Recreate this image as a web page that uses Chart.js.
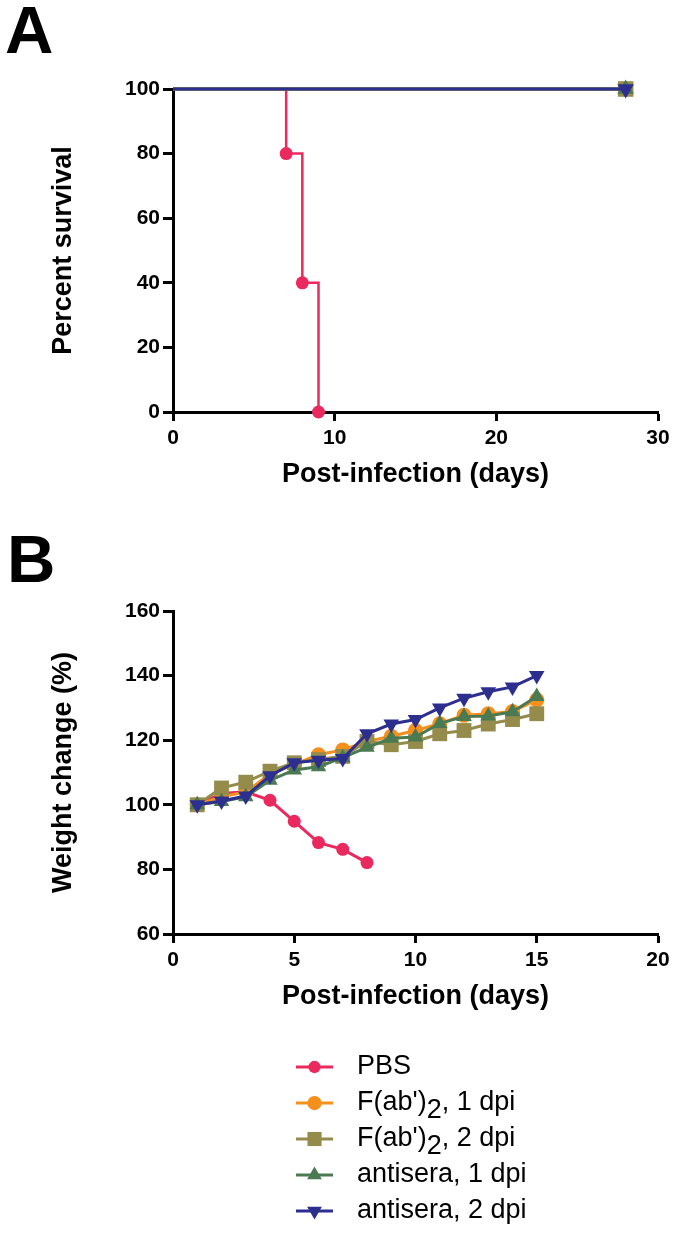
<!DOCTYPE html>
<html lang="en">
<head>
    <meta charset="UTF-8">
    <title>Survival and weight change</title>
    <script src="https://cdn.jsdelivr.net/npm/chart.js"></script>
    <style>
        body { margin: 0; background: #fff; width: 675px; height: 1233px; overflow: hidden; position: relative; }
        canvas { position: absolute; left: 0; }
        #survivalChart { top: 0; }
        #weightChart { top: 520px; }
    </style>
</head>
<body>
    <canvas id="survivalChart" width="675" height="520"></canvas>
    <canvas id="weightChart" width="675" height="713"></canvas>

    <script>
        // ---- data ----
        const seriesNames = ['PBS', "F(ab')\u2082, 1 dpi", "F(ab')\u2082, 2 dpi", 'antisera, 1 dpi', 'antisera, 2 dpi'];
        const seriesColors = ['#EA2A5F', '#F5901E', '#958C4C', '#4B7A52', '#2D2F8F'];

        // panel A: Kaplan-Meier survival
        const survivalDaysPBS = [0, 7, 8, 9];
        const survivalPBS = [100, 80, 40, 0];
        const survivalDaysTreated = [0, 28];
        const survivalF1 = [100, 100];
        const survivalF2 = [100, 100];
        const survivalA1 = [100, 100];
        const survivalA2 = [100, 100];

        // panel B: weight change (%)
        const weightDays = [1, 2, 3, 4, 5, 6, 7, 8, 9, 10, 11, 12, 13, 14, 15];
        const weightPBS = [100, 103.5, 104, 101.4, 94.9, 88.3, 86.2, 82.1];
        const weightF1 = [100, 102.5, 104, 109.5, 112.5, 115.5, 117, 119.6, 121.2, 123, 125.1, 127.7, 128.2, 128.9, 132.5];
        const weightF2 = [100, 105.2, 107, 110.4, 113, 114, 115, 119.6, 118.6, 119.6, 122, 123, 125, 126.4, 128.2];
        const weightA1 = [100, 101, 102.5, 107.6, 110.8, 111.8, 114.6, 117.8, 120.6, 121, 125.2, 127.3, 127.5, 128.8, 133.5];
        const weightA2 = [100, 101.2, 102.7, 109, 113, 113.8, 114.3, 122, 125, 126.4, 130, 133, 135, 136.5, 140];

        const FONT = '"Liberation Sans", Arial, sans-serif';
        Chart.defaults.font.family = FONT;
        Chart.defaults.color = '#000';

        const pointStyles = ['circle', 'circle', 'rect', 'triangle', 'triangle'];
        const pointRotations = [0, 0, 0, 0, 180];
        const pointSizes = [6.5, 7.5, 10.5, 9, 9];

        function toXY(xs, ys) {
            return ys.map((y, i) => ({ x: xs[i], y: y }));
        }

        // big panel letters
        const panelLabel = {
            id: 'panelLabel',
            afterDraw(chart, args, opts) {
                const ctx = chart.ctx;
                ctx.save();
                ctx.fillStyle = '#000';
                ctx.font = 'bold 67px ' + FONT;
                ctx.textBaseline = 'alphabetic';
                ctx.fillText(opts.text, opts.x, opts.y);
                ctx.restore();
            }
        };

        function drawMarker(ctx, style, x, y, r, rot) {
            ctx.beginPath();
            if (style === 'circle') {
                ctx.arc(x, y, r, 0, Math.PI * 2);
            } else if (style === 'rect') {
                const s = r * Math.SQRT1_2;
                ctx.rect(x - s, y - s, 2 * s, 2 * s);
            } else {
                let rad = rot * Math.PI / 180;
                for (let k = 0; k < 3; k++) {
                    const px = x + Math.sin(rad) * r;
                    const py = y - Math.cos(rad) * r;
                    if (k === 0) ctx.moveTo(px, py); else ctx.lineTo(px, py);
                    rad += 2 * Math.PI / 3;
                }
                ctx.closePath();
            }
            ctx.fill();
        }

        // vertical legend under panel B
        const seriesLegend = {
            id: 'seriesLegend',
            afterDraw(chart, args, opts) {
                if (!opts.show) return;
                const ctx = chart.ctx;
                ctx.save();
                chart.data.datasets.forEach((ds, i) => {
                    const y = opts.top + i * opts.rowGap;
                    ctx.strokeStyle = ds.borderColor;
                    ctx.fillStyle = ds.borderColor;
                    ctx.lineWidth = 3;
                    ctx.beginPath();
                    ctx.moveTo(opts.lineStart, y);
                    ctx.lineTo(opts.lineEnd, y);
                    ctx.stroke();
                    const mid = (opts.lineStart + opts.lineEnd) / 2;
                    drawMarker(ctx, pointStyles[i], mid, y, pointSizes[i] * 0.95, pointRotations[i]);

                    ctx.fillStyle = '#000';
                    ctx.font = '27px ' + FONT;
                    ctx.textBaseline = 'middle';
                    const parts = ds.label.split('\u2082');
                    let tx = opts.textX;
                    ctx.fillText(parts[0], tx, y);
                    if (parts.length > 1) {
                        tx += ctx.measureText(parts[0]).width;
                        ctx.fillText('2', tx, y + 8);
                        tx += ctx.measureText('2').width;
                        ctx.fillText(parts[1], tx, y);
                    }
                });
                ctx.restore();
            }
        };

        function axisOpts(min, max, step, title, isX, fitSize) {
            return {
                type: 'linear',
                min: min,
                max: max,
                ticks: {
                    stepSize: step,
                    padding: isX ? 5 : 3,
                    font: { size: 21, weight: 'bold' },
                    color: '#000'
                },
                grid: {
                    drawOnChartArea: false,
                    drawTicks: true,
                    tickLength: isX ? 9 : 10,
                    tickWidth: 3,
                    tickColor: '#000'
                },
                border: { display: true, color: '#000', width: 3 },
                title: {
                    display: true,
                    text: title,
                    color: '#000',
                    font: { size: 27, weight: 'bold' },
                    padding: isX ? { top: 0, bottom: 29 } : { top: 47, bottom: 0 }
                },
                afterFit(scale) {
                    if (isX) scale.height = fitSize; else scale.width = fitSize;
                }
            };
        }

        function lineDataset(i, data, extra) {
            return Object.assign({
                label: seriesNames[i],
                data: data,
                borderColor: seriesColors[i],
                backgroundColor: seriesColors[i],
                pointBackgroundColor: seriesColors[i],
                pointBorderColor: seriesColors[i],
                pointBorderWidth: 0,
                pointStyle: pointStyles[i],
                pointRotation: pointRotations[i],
                pointRadius: pointSizes[i],
                borderWidth: 3,
                fill: false,
                clip: false,
                order: 5 - i
            }, extra || {});
        }

        // ---- Panel A ----
        new Chart(document.getElementById('survivalChart').getContext('2d'), {
            type: 'line',
            data: {
                datasets: [
                    lineDataset(0, toXY(survivalDaysPBS, survivalPBS), { stepped: 'before', pointRadius: [0, 6.5, 6.5, 6.5], borderWidth: 2.5 }),
                    lineDataset(1, toXY(survivalDaysTreated, survivalF1), { stepped: 'before', pointRadius: [0, 7.5] }),
                    lineDataset(2, toXY(survivalDaysTreated, survivalF2), { stepped: 'before', pointRadius: [0, 11] }),
                    lineDataset(3, toXY(survivalDaysTreated, survivalA1), { stepped: 'before', pointRadius: [0, 9.5] }),
                    lineDataset(4, toXY(survivalDaysTreated, survivalA2), { stepped: 'before', pointRadius: [0, 9.5] })
                ]
            },
            options: {
                responsive: false,
                animation: false,
                layout: { padding: { top: 89, right: 17, left: 0, bottom: 0 } },
                scales: {
                    x: axisOpts(0, 30, 10, 'Post-infection (days)', true, 108),
                    y: axisOpts(0, 100, 20, 'Percent survival', false, 173)
                },
                plugins: {
                    legend: { display: false },
                    tooltip: { enabled: false },
                    panelLabel: { text: 'A', x: 5, y: 53 },
                    seriesLegend: { show: false }
                }
            },
            plugins: [panelLabel, seriesLegend]
        });

        // ---- Panel B ----
        new Chart(document.getElementById('weightChart').getContext('2d'), {
            type: 'line',
            data: {
                datasets: [
                    lineDataset(0, toXY(weightDays, weightPBS)),
                    lineDataset(1, toXY(weightDays, weightF1)),
                    lineDataset(2, toXY(weightDays, weightF2)),
                    lineDataset(3, toXY(weightDays, weightA1)),
                    lineDataset(4, toXY(weightDays, weightA2))
                ]
            },
            options: {
                responsive: false,
                animation: false,
                layout: { padding: { top: 91, right: 17, left: 0, bottom: 191 } },
                scales: {
                    x: axisOpts(0, 20, 5, 'Post-infection (days)', true, 108),
                    y: axisOpts(60, 160, 20, 'Weight change (%)', false, 173)
                },
                plugins: {
                    legend: { display: false },
                    tooltip: { enabled: false },
                    panelLabel: { text: 'B', x: 7, y: 62 },
                    seriesLegend: { show: true, top: 547, rowGap: 36, lineStart: 296, lineEnd: 333, textX: 357 }
                }
            },
            plugins: [panelLabel, seriesLegend]
        });
    </script>
</body>
</html>
